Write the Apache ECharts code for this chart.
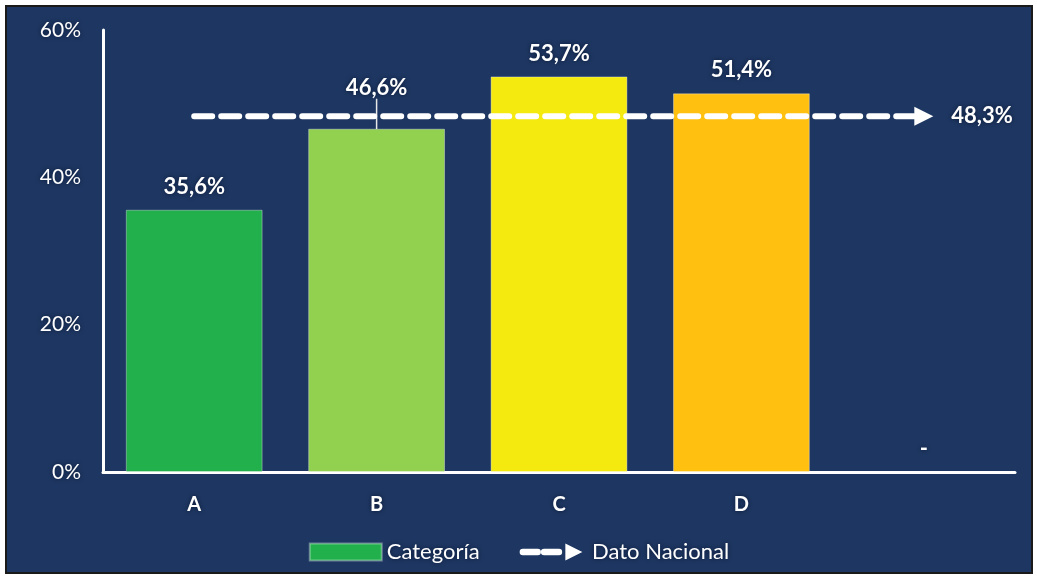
<!DOCTYPE html>
<html>
<head>
<meta charset="utf-8">
<script src="https://cdn.jsdelivr.net/npm/echarts@6/dist/echarts.min.js"></script>
<style>
    html, body { margin: 0; padding: 0; background: #ffffff; }
    #main { position: absolute; left: 5px; top: 5px; width: 1024px; height: 565px; border: 2px solid #1a1a1a; }
</style>
</head>
<body>
<div id="main"></div>
<script>
// datos del gráfico
var categories = ['A', 'B', 'C', 'D', ''];
var values = [35.6, 46.6, 53.7, 51.4, 0];
var barColors = ['#22b04c', '#92d050', '#f4ea10', '#ffc010', '#ffc010'];
var nacional = 48.3;
var yTicks = [0, 20, 40, 60];

var chart = echarts.init(document.getElementById('main'));

var glow = { textShadowColor: '#0b1733', textShadowBlur: 4 };
var fontName = 'Lato';

// formato con coma decimal
var fmt = function (v) {
    return v.toFixed(1).replace('.', ',') + '%';
};

var barData = values.map(function (v, i) {
    var item = { value: v, itemStyle: { color: barColors[i] } };
    // etiqueta de B desplazada por encima de la línea nacional
    if (i == 1) item.labelLine = { show: true, lineStyle: { color: '#e8e8e8', width: 1.5 } };
    return item;
});

var lineData = categories.map(function (c, i) {
    if (i == categories.length - 1)
        return {
            value: nacional,
            symbol: 'triangle', symbolSize: [19, 19], symbolRotate: -90,
            label: {
                show: true, position: 'right', distance: 18,
                formatter: function () { return fmt(nacional); },
                color: '#ffffff', fontWeight: 'bold', fontSize: 22, fontFamily: fontName,
                textShadowColor: glow.textShadowColor, textShadowBlur: glow.textShadowBlur
            }
        };
    return { value: nacional, symbol: 'none' };
});

var option = {
    backgroundColor: '#1e3762',
    textStyle: { fontFamily: fontName },
    grid: { left: 96, right: 16, top: 23, bottom: 100 },
    legend: {
        left: 'center', top: 529,
        itemWidth: 72, itemHeight: 17, itemGap: 40,
        textStyle: { color: '#ffffff', fontSize: 22, fontFamily: fontName,
            textShadowColor: glow.textShadowColor, textShadowBlur: glow.textShadowBlur },
        data: [
            { name: 'Categoría', icon: 'rect', itemStyle: { color: '#22b04c' } },
            { name: 'Dato Nacional', icon: 'path://M0,5h14a3,3 0 0 1 0,6h-14a3,3 0 0 1 0,-6z M20,5h14a3,3 0 0 1 0,6h-14a3,3 0 0 1 0,-6z M40,0L56,8L40,16z',
              itemStyle: { color: '#ffffff' } }
        ]
    },
    xAxis: {
        type: 'category',
        data: categories,
        axisLine: { lineStyle: { color: '#ffffff', width: 3 } },
        axisTick: { show: false },
        axisLabel: { color: '#ffffff', fontWeight: 'bold', fontSize: 20, margin: 23, fontFamily: fontName,
            textShadowColor: glow.textShadowColor, textShadowBlur: glow.textShadowBlur }
    },
    yAxis: {
        type: 'value',
        min: yTicks[0], max: yTicks[yTicks.length - 1], interval: 20,
        axisLine: { show: true, lineStyle: { color: '#ffffff', width: 3 } },
        axisTick: { show: false },
        splitLine: { show: false },
        axisLabel: { color: '#ffffff', fontSize: 21, margin: 22, fontFamily: fontName,
            formatter: '{value}%',
            textShadowColor: glow.textShadowColor, textShadowBlur: glow.textShadowBlur }
    },
    series: [{
        name: 'Categoría',
        type: 'bar',
        barWidth: '75%',
        itemStyle: { color: '#22b04c', borderColor: 'rgba(255,255,255,0.35)', borderWidth: 1 },
        data: barData,
        label: {
            show: true, position: 'top', distance: 12,
            color: '#ffffff', fontWeight: 'bold', fontSize: 22, fontFamily: fontName,
            textShadowColor: glow.textShadowColor, textShadowBlur: glow.textShadowBlur,
            formatter: function (p) { return p.value == 0 ? '-' : fmt(p.value); }
        },
        labelLayout: function (p) {
            return p.dataIndex == 1 ? { dy: -18 } : {};
        }
    }, {
        name: 'Dato Nacional',
        type: 'line',
        z: 5,
        data: lineData,
        lineStyle: { color: '#ffffff', width: 6, type: [18, 9], cap: 'round' },
        itemStyle: { color: '#ffffff' },
        symbolKeepAspect: true,
        silent: true
    }]
};

chart.setOption(option);
</script>
</body>
</html>
